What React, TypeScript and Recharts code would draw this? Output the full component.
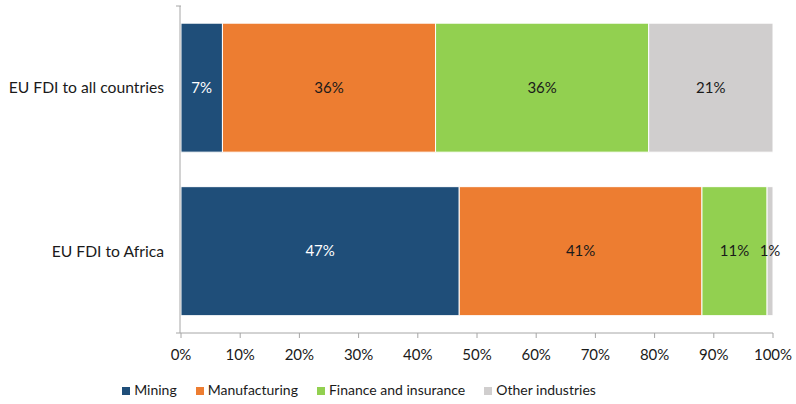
import { Bar, BarChart, LabelList, Legend, XAxis, YAxis } from "recharts";

const categories = ["EU FDI to all countries", "EU FDI to Africa"];
const mining = [7, 47];
const manufacturing = [36, 41];
const finance = [36, 11];
const other = [21, 1];
const xTicks = [0, 10, 20, 30, 40, 50, 60, 70, 80, 90, 100];
const bandEdges = [0, 1, 2];

const data = categories.map((name, i) => ({
  name,
  mining: mining[i],
  manufacturing: manufacturing[i],
  finance: finance[i],
  other: other[i],
}));

const series = [
  { key: "mining", label: "Mining", color: "#1F4E79", text: "#ffffff" },
  { key: "manufacturing", label: "Manufacturing", color: "#ED7D31", text: "#1a1a1a" },
  { key: "finance", label: "Finance and insurance", color: "#92D050", text: "#1a1a1a" },
  { key: "other", label: "Other industries", color: "#D0CECE", text: "#1a1a1a" },
];

const font = "Lato, sans-serif";

export default function App() {
  return (
    <div style={{ position: "absolute", left: 0, top: 0, width: 796, height: 404, background: "#fff", fontFamily: font }}>
      <BarChart
        width={796}
        height={404}
        data={data}
        layout="vertical"
        margin={{ top: 6, right: 23, left: 0, bottom: 6 }}
        barCategoryGap="10.5%"
        style={{ fontFamily: font }}
      >
        <XAxis
          type="number"
          domain={[0, 100]}
          ticks={xTicks}
          tickFormatter={(v) => `${v}%`}
          stroke="#a6a6a6"
          tick={{ fill: "#1a1a1a", fontSize: 15, fontFamily: font }}
          tickSize={5}
          tickMargin={11}
          height={48}
          interval={0}
        />
        {/* band-edge ticks like the original category axis */}
        <YAxis
          type="number"
          domain={[0, 2]}
          allowDataOverflow
          ticks={bandEdges}
          interval={0}
          tickFormatter={() => ""}
          width={1}
          axisLine={false}
          tickSize={5}
          stroke="#a6a6a6"
        />
        <YAxis
          yAxisId="cat"
          type="category"
          dataKey="name"
          width={180}
          stroke="#a6a6a6"
          tickLine={false}
          tick={{ fill: "#1a1a1a", fontSize: 15.7, fontFamily: font }}
          tickMargin={10}
        />
        <Legend
          verticalAlign="bottom"
          iconType="square"
          iconSize={8}
          itemSorter={(item) => series.findIndex((s) => s.label === item.value)}
          wrapperStyle={{ fontSize: 14, fontFamily: font, left: -18 }}
          formatter={(value) => <span style={{ color: "#1a1a1a", marginRight: 9 }}>{value}</span>}
        />
        {series.map((s) => (
          <Bar
            key={s.key}
            yAxisId="cat"
            dataKey={s.key}
            name={s.label}
            stackId="a"
            fill={s.color}
            stroke="#ffffff"
            strokeWidth={1}
            isAnimationActive={false}
          >
            <LabelList
              dataKey={s.key}
              position="center"
              formatter={(v) => `${v}%`}
              style={{ fill: s.text, fontSize: 15, fontFamily: font }}
            />
          </Bar>
        ))}
      </BarChart>
    </div>
  );
}
